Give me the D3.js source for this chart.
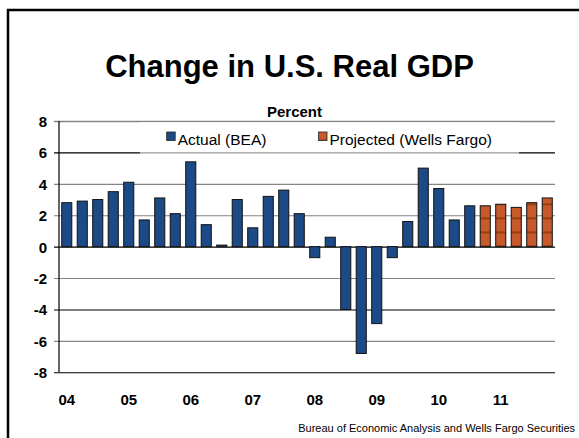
<!DOCTYPE html>
<html>
<head>
<meta charset="utf-8">
<script src="https://cdn.jsdelivr.net/npm/d3@7"></script>
<style>
    body { margin: 0; background: #fff; }
    text { font-family: "Liberation Sans", Arial, sans-serif; }
</style>
</head>
<body>
<svg id="chart" width="579" height="438"></svg>
<script>

// quarters 2004Q1 .. 2011Q4
let years = ["04", "05", "06", "07", "08", "09", "10", "11"]
let quarters = []
for (let yr of years) {
    for (let q = 1; q <= 4; q++) quarters.push(yr + "Q" + q)
}

// actual (BEA), 04Q1 .. 10Q3
let actual = [2.8, 2.9, 3.0, 3.5, 4.1, 1.7, 3.1, 2.1, 5.4, 1.4, 0.1, 3.0,
    1.2, 3.2, 3.6, 2.1, -0.7, 0.6, -4.0, -6.8, -4.9, -0.7, 1.6, 5.0,
    3.7, 1.7, 2.6]

// projected (Wells Fargo), 10Q4 .. 11Q4
let projected = [2.6, 2.7, 2.5, 2.8, 3.1]

let yTicks = [-8, -6, -4, -2, 0, 2, 4, 6, 8]
let legendLabels = ["Actual (BEA)", "Projected (Wells Fargo)"]

let COLORS = {
    actual: "#1c4a86",
    projected: "#c65a2a",
    stripe: "#8a3510"
}

function drawChart() {
    console.log("Drawing GDP chart")

    let data = quarters.map((q, i) => ({
        q: q,
        value: i < actual.length ? actual[i] : projected[i - actual.length],
        kind: i < actual.length ? "actual" : "projected"
    }))

    let svg = d3.select("#chart")

    let left = 59, right = 555, top = 121, bottom = 372.3

    let defs = svg.append("defs")
    let pat = defs.append("pattern")
        .attr("id", "stripes")
        .attr("patternUnits", "userSpaceOnUse")
        .attr("width", 8)
        .attr("height", 14)
        .attr("y", 1.5)
    pat.append("rect").attr("width", 8).attr("height", 14).attr("fill", COLORS.projected)
    pat.append("rect").attr("y", 6).attr("width", 8).attr("height", 1.6).attr("fill", COLORS.stripe)

    // frame
    svg.append("path")
        .attr("d", "M8,440 L8,10 L582,10")
        .attr("fill", "none")
        .attr("stroke", "#000")
        .attr("stroke-width", 2.5)

    svg.append("text")
        .attr("x", 289.5)
        .attr("y", 77)
        .attr("text-anchor", "middle")
        .style("font-size", "31px")
        .style("font-weight", "bold")
        .text("Change in U.S. Real GDP")

    svg.append("text")
        .attr("x", 322)
        .attr("y", 116.5)
        .attr("text-anchor", "end")
        .style("font-size", "15px")
        .style("font-weight", "bold")
        .text("Percent")

    let xScale = d3.scaleBand()
        .domain(quarters)
        .range([left, right])
        .paddingInner(0.35)
        .paddingOuter(0.175)

    let yScale = d3.scaleLinear()
        .domain([-8, 8])
        .range([bottom, top])

    // gridlines + y labels
    let yAxis = d3.axisLeft(yScale)
        .tickValues(yTicks)
        .tickSize(-(right - left))
        .tickPadding(12)
        .tickFormat(d => String(d))

    let gy = svg.append("g")
        .attr("transform", "translate(" + left + ",0)")
        .call(yAxis)
    gy.select(".domain").remove()
    gy.selectAll(".tick line")
        .attr("x1", -5)
        .attr("stroke", d => (d == 0 || d == -4 || d == -8 || d == 6) ? "#000" : "#858585")
        .attr("stroke-width", d => d == 8 ? 1.6 : 1.1)
    gy.selectAll(".tick text")
        .style("font-size", "15px")
        .style("font-weight", "bold")
        .style("font-family", "'Liberation Sans', Arial, sans-serif")
        .attr("fill", "#000")
        .attr("dy", "0.36em")

    // legend box lightens the 6 gridline under it
    svg.append("rect")
        .attr("x", 140)
        .attr("y", 122)
        .attr("width", 379)
        .attr("height", 32)
        .attr("fill", "#fff")
        .attr("opacity", 0.6)

    let legendX = [166.7, 318.5]
    let legend = svg.selectAll(".legend").data(legendLabels)
        .enter()
        .append("g")
        .attr("class", "legend")
        .attr("transform", (d, i) => "translate(" + legendX[i] + ",132)")
    legend.append("rect")
        .attr("width", 8.5)
        .attr("height", 8.5)
        .attr("fill", (d, i) => i == 0 ? COLORS.actual : "url(#stripes)")
        .attr("stroke", "#222")
        .attr("stroke-width", 0.8)
    legend.append("text")
        .attr("x", 11)
        .attr("y", 13)
        .style("font-size", "15.5px")
        .text(d => d)

    // bars
    svg.append("g").selectAll("rect")
        .data(data)
        .enter()
        .append("rect")
        .attr("x", d => xScale(d.q))
        .attr("width", xScale.bandwidth())
        .attr("y", d => yScale(Math.max(0, d.value)))
        .attr("height", d => Math.abs(yScale(d.value) - yScale(0)))
        .attr("fill", d => d.kind == "actual" ? COLORS.actual : "url(#stripes)")
        .attr("stroke", "#111")
        .attr("stroke-width", 1)

    // y axis line
    svg.append("line")
        .attr("x1", left).attr("x2", left)
        .attr("y1", top).attr("y2", bottom)
        .attr("stroke", "#000")
        .attr("stroke-width", 1.2)

    // year labels under the first quarter of each year
    svg.append("g").selectAll("text")
        .data(years)
        .enter()
        .append("text")
        .attr("x", d => xScale(d + "Q1") + xScale.bandwidth() / 2)
        .attr("y", 405)
        .attr("text-anchor", "middle")
        .style("font-size", "15px")
        .style("font-weight", "bold")
        .text(d => d)

    svg.append("text")
        .attr("x", 575)
        .attr("y", 432)
        .attr("text-anchor", "end")
        .style("font-size", "11px")
        .text("Bureau of Economic Analysis and Wells Fargo Securities")
}

drawChart()

</script>
</body>
</html>
